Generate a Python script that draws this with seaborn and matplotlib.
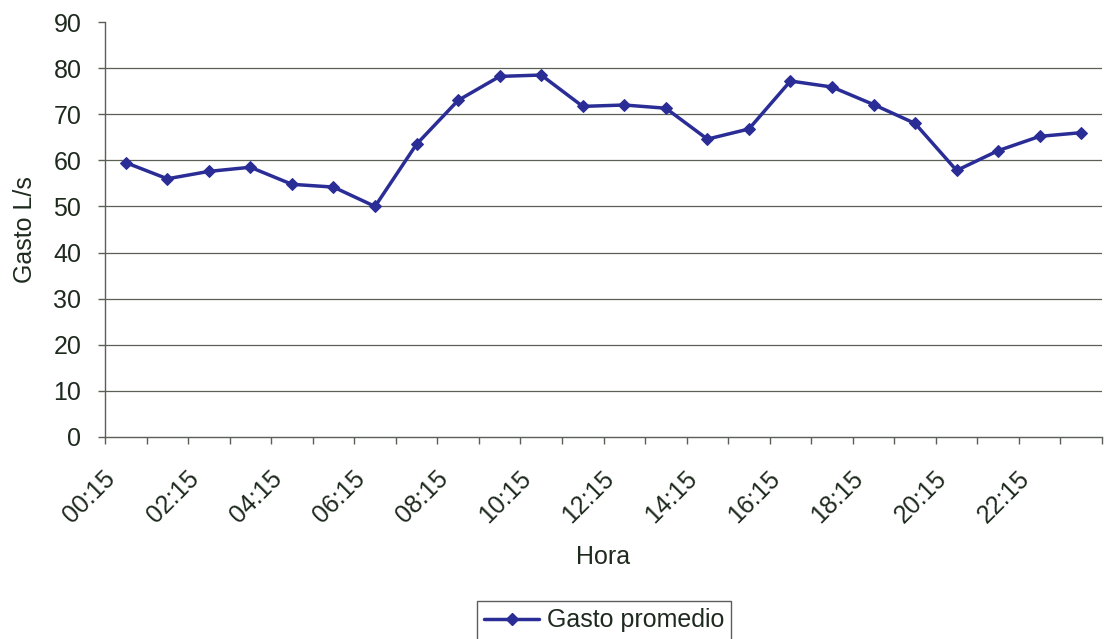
import matplotlib
matplotlib.use("Agg")
import matplotlib.pyplot as plt
import seaborn as sns
import pandas as pd
import numpy as np
from matplotlib.ticker import FixedLocator
import matplotlib.transforms as mtransforms

horas = ["00:15", "01:15", "02:15", "03:15", "04:15", "05:15", "06:15", "07:15",
         "08:15", "09:15", "10:15", "11:15", "12:15", "13:15", "14:15", "15:15",
         "16:15", "17:15", "18:15", "19:15", "20:15", "21:15", "22:15", "23:15"]
gasto = [59.5, 56.0, 57.6, 58.5, 54.8, 54.2, 50.0, 63.5,
         73.0, 78.2, 78.5, 71.7, 72.0, 71.3, 64.6, 66.8,
         77.2, 75.9, 72.1, 68.0, 57.8, 62.1, 65.2, 66.0]
serie = "Gasto promedio"
y_ticks = [0, 10, 20, 30, 40, 50, 60, 70, 80, 90]

df = pd.DataFrame({"idx": np.arange(len(horas)), "hora": horas, "gasto": gasto, "serie": serie})

sns.set_theme(style="white")
plt.rcParams['font.family'] = ['Liberation Sans', 'DejaVu Sans']

fig = plt.figure(figsize=(11.05, 6.39), dpi=100)
ax = fig.add_axes([105/1105, 1-437/639, 997/1105, 415/639])

line_color = "#2b2d96"
text_color = "#1f2a1f"
grid_color = "#5a6056"
fs = 18

sns.lineplot(data=df, x="idx", y="gasto", hue="serie", palette=[line_color],
             marker="D", markersize=6.5, linewidth=2.5, sort=False, ax=ax,
             markeredgecolor=line_color, legend=False)

ax.set_xlim(-0.5, len(horas) - 0.5)
ax.set_ylim(0, 90)

# y axis
ax.set_yticks(y_ticks)
ax.set_yticklabels([str(v) for v in y_ticks])
ax.tick_params(axis="y", direction="out", length=5, width=1, color=grid_color,
               pad=12, labelsize=fs, labelcolor=text_color, left=True)
for v in y_ticks[1:-1]:
    ax.axhline(v, color=grid_color, linewidth=0.9, zorder=0)

# x axis: minor ticks at category boundaries, labels every other category
ax.xaxis.set_minor_locator(FixedLocator(np.arange(-0.5, len(horas), 1.0)))
label_pos = list(range(0, len(horas), 2))
ax.set_xticks(label_pos)
ax.set_xticklabels([horas[i] for i in label_pos], rotation=45, ha="right",
                   va="center", rotation_mode="anchor")
ax.tick_params(axis="x", which="major", length=0, pad=27, labelsize=fs,
               labelcolor=text_color, bottom=True)
ax.tick_params(axis="x", which="minor", direction="out", length=5, width=1,
               color=grid_color, bottom=True)
offset = mtransforms.ScaledTranslation(-14/100, 0, fig.dpi_scale_trans)
for lbl in ax.get_xticklabels():
    lbl.set_transform(lbl.get_transform() + offset)

for s in ["top", "right"]:
    ax.spines[s].set_visible(False)
for s in ["left", "bottom"]:
    ax.spines[s].set_color(grid_color)
    ax.spines[s].set_linewidth(1.0)

ax.set_xlabel("Hora", fontsize=fs, color=text_color)
ax.set_ylabel("Gasto L/s", fontsize=fs, color=text_color)
ax.xaxis.set_label_coords(0.5, (437-545)/415)
ax.yaxis.set_label_coords((37-105)/997, 0.5)

handle = plt.Line2D([], [], color=line_color, marker="D", markersize=6.5,
                    linewidth=2.5, markeredgecolor=line_color)
leg = fig.legend([handle], [serie], loc="upper center",
                 bbox_to_anchor=(604/1105, 1-601/639), frameon=True,
                 fontsize=fs, handlelength=2.2, handletextpad=0.3,
                 borderpad=0.3, borderaxespad=0, fancybox=False)
leg.get_frame().set_edgecolor("#333333")
leg.get_frame().set_linewidth(1.0)
for t in leg.get_texts():
    t.set_color(text_color)

fig.savefig("out.png", dpi=100, facecolor="white")
